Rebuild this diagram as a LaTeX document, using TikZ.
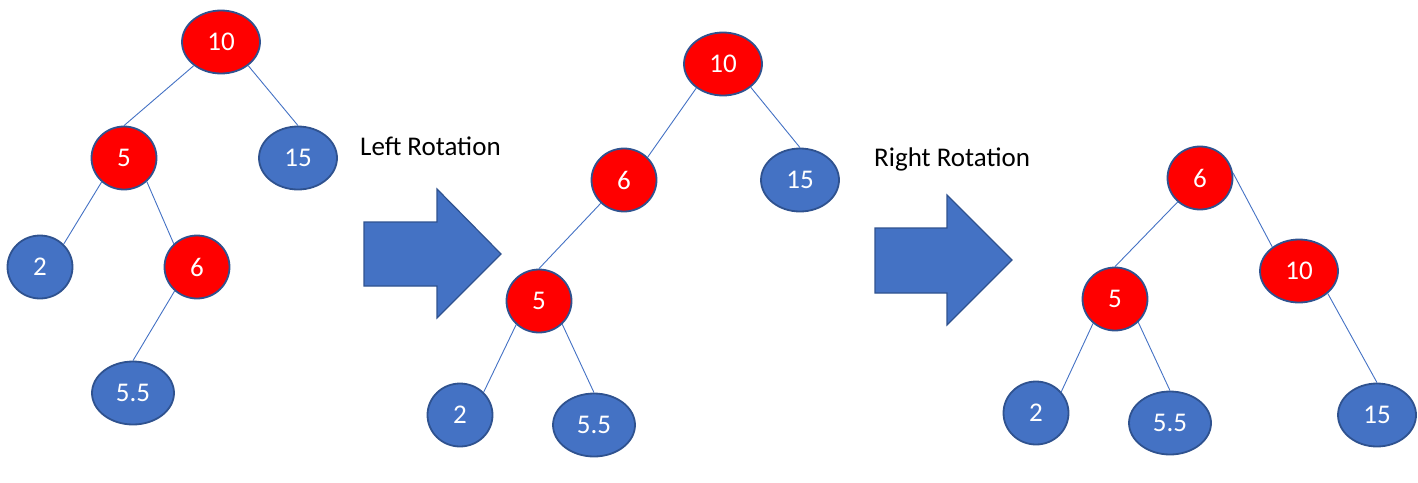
\documentclass[tikz,border=0pt]{standalone}
\usepackage{fontspec}
\setmainfont{Carlito}
\usetikzlibrary{shapes.geometric}
\definecolor{rbred}{HTML}{FF0000}
\definecolor{rbblue}{HTML}{4472C4}
\definecolor{rbedge}{HTML}{2F528F}

\begin{document}
\begin{tikzpicture}[
  x=1pt,y=-1pt,
  rednode/.style={ellipse,draw=rbedge,line width=1.8pt,fill=rbred,text=white,minimum width=65pt,minimum height=63pt,inner sep=0pt,font=\fontsize{27}{32}\selectfont},
  bluenode/.style={rednode,fill=rbblue},
  wide/.style={minimum width=78pt},
  wider/.style={minimum width=82pt},
  link/.style={rbblue,line width=0.9pt},
  blockarrow/.style={fill=rbblue,draw=rbedge,line width=1.2pt,line join=miter},
  rotlabel/.style={anchor=base west,inner sep=0pt,font=\fontsize{27}{32}\selectfont},
]
\useasboundingbox (0,0) rectangle (1418,482);

% Tree before left rotation
\node[rednode,wide]   (a10) at (221,42)  {10};
\node[rednode]        (a5)  at (124,158) {5};
\node[bluenode,wide]  (a15) at (298,158) {15};
\node[bluenode]       (a2)  at (40,267)  {2};
\node[rednode]        (a6)  at (197,267) {6};
\node[bluenode,wider] (a55) at (133,393) {5.5};
\draw[link] (a10.-139) -- (a5.north);
\draw[link] (a10.-41)  -- (a15.north);
\draw[link] (a5.-133)  -- (a2.44);
\draw[link] (a5.-46)   -- (a6.135);
\draw[link] (a6.-133)  -- (a55.north);

% Left rotation
\node[rotlabel] (leftrot) at (360,155) {Left Rotation};
\draw[blockarrow] (364,222) -- (437,222) -- (437,189) -- (501,254)
  -- (437,318) -- (437,286) -- (364,286) -- cycle;

% Tree after left rotation
\node[rednode,wide]   (b10) at (723,64)  {10};
\node[rednode]        (b6)  at (624,180) {6};
\node[bluenode,wide]  (b15) at (800,180) {15};
\node[rednode]        (b5)  at (539,301) {5};
\node[bluenode]       (b2)  at (460,415) {2};
\node[bluenode,wider] (b55) at (594,425) {5.5};
\draw[link] (b10.-138) -- (b6.44);
\draw[link] (b10.-40)  -- (b15.north);
\draw[link] (b6.-135)  -- (b5.north);
\draw[link] (b5.-134)  -- (b2.44);
\draw[link] (b5.-45)   -- (b55.north);

% Right rotation
\node[rotlabel] (rightrot) at (874,166) {Right Rotation};
\draw[blockarrow] (875,228) -- (947,228) -- (947,195) -- (1012,260)
  -- (947,325) -- (947,293) -- (875,293) -- cycle;

% Tree after right rotation
\node[rednode]        (c6)  at (1200,178) {6};
\node[rednode]        (c5)  at (1115,299) {5};
\node[rednode,wide]   (c10) at (1299,271) {10};
\node[bluenode]       (c2)  at (1036,413) {2};
\node[bluenode,wider] (c55) at (1170,423) {5.5};
\node[bluenode,wide]  (c15) at (1377,415) {15};
\draw[link] (c6.-133)  -- (c5.north);
\draw[link] (c6.9)     -- (c10.138);
\draw[link] (c5.-132)  -- (c2.40);
\draw[link] (c5.-45)   -- (c55.north);
\draw[link] (c10.-38)  -- (c15.north);
\end{tikzpicture}
\end{document}
